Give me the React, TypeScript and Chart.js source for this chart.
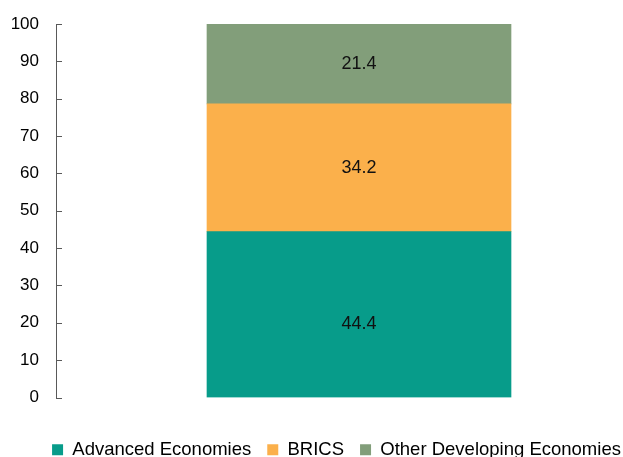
import { useEffect, useRef } from "react";
import { Chart, registerables } from "chart.js";

Chart.register(...registerables);

const categories = [""];
const seriesNames = ["Advanced Economies", "BRICS", "Other Developing Economies"];
const advancedValues = [44.4];
const bricsValues = [34.2];
const otherDevelopingValues = [21.4];
const seriesColors = ["#079C8A", "#FBB04B", "#829E7A"];
const labelOffsets = [9, 0, 0];
const yMin = 0;
const yMax = 100;
const yStep = 10;

const AXIS_COLOR = "#595959";
const FONT = "'Liberation Sans', Arial, sans-serif";

const inwardTicks = {
  id: "inwardTicks",
  afterDraw(chart: any) {
    const y = chart.scales.y;
    const ctx = chart.ctx;
    ctx.save();
    ctx.strokeStyle = AXIS_COLOR;
    ctx.lineWidth = 1;
    y.ticks.forEach((_t: any, i: number) => {
      const py = Math.round(y.getPixelForTick(i)) + 0.5;
      ctx.beginPath();
      ctx.moveTo(y.right, py);
      ctx.lineTo(y.right + 6, py);
      ctx.stroke();
    });
    ctx.restore();
  },
};

const valueLabels = {
  id: "valueLabels",
  afterDatasetsDraw(chart: any) {
    const ctx = chart.ctx;
    ctx.save();
    ctx.font = `18px ${FONT}`;
    ctx.fillStyle = "#111111";
    ctx.textAlign = "center";
    ctx.textBaseline = "middle";
    chart.data.datasets.forEach((ds: any, i: number) => {
      const meta = chart.getDatasetMeta(i);
      meta.data.forEach((el: any, j: number) => {
        const { x, y, base } = el.getProps(["x", "y", "base"], true);
        const v = ds.data[j];
        ctx.fillText(v.toFixed(1), x, (y + base) / 2 + (labelOffsets[i] || 0));
      });
    });
    ctx.restore();
  },
};

export default function App() {
  const ref = useRef<HTMLCanvasElement | null>(null);

  useEffect(() => {
    if (!ref.current) return;
    Chart.defaults.font.family = FONT;
    const seriesData = [advancedValues, bricsValues, otherDevelopingValues];
    const chart = new Chart(ref.current, {
      type: "bar",
      data: {
        labels: categories,
        datasets: seriesNames.map((name, i) => ({
          label: name,
          data: seriesData[i],
          backgroundColor: seriesColors[i],
          borderWidth: 0,
          barThickness: 304,
        })),
      },
      options: {
        responsive: false,
        animation: false,
        layout: { padding: { top: 24, left: 11, right: 0, bottom: 0 } },
        plugins: {
          tooltip: { enabled: false },
          legend: {
            position: "bottom",
            align: "center",
            labels: {
              color: "#000000",
              font: { size: 18.5, family: FONT },
              boxWidth: 11,
              boxHeight: 11,
              padding: 16,
            },
          },
        },
        scales: {
          x: {
            stacked: true,
            display: true,
            grid: { display: false, drawTicks: false },
            border: { display: false },
            ticks: { display: false },
            afterFit: (scale: any) => {
              scale.height = 27;
            },
          },
          y: {
            stacked: true,
            min: yMin,
            max: yMax,
            grid: { display: false, drawTicks: false },
            border: { display: true, color: AXIS_COLOR, width: 1 },
            ticks: {
              stepSize: yStep,
              padding: 17,
              color: "#000000",
              font: { size: 17, family: FONT },
            },
            afterFit: (scale: any) => {
              scale.width = 45;
              scale.paddingTop = 0;
              scale.paddingBottom = 0;
            },
          },
        },
      },
      plugins: [inwardTicks, valueLabels],
    });
    return () => chart.destroy();
  }, []);

  return (
    <div
      style={{
        position: "absolute",
        left: 0,
        top: 0,
        width: 623,
        height: 457,
        overflow: "hidden",
        background: "#ffffff",
      }}
    >
      <canvas
        ref={ref}
        width={662}
        height={469}
        style={{ display: "block", width: 662, height: 469 }}
      />
    </div>
  );
}
